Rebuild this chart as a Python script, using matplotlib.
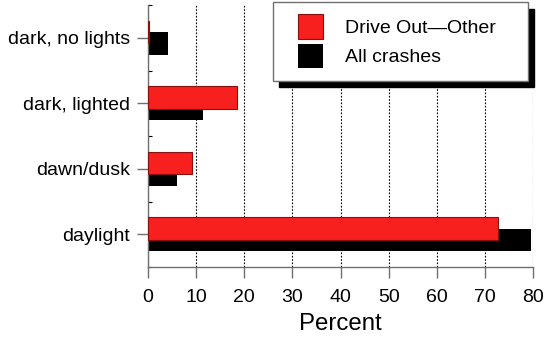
import matplotlib
matplotlib.use("Agg")
import matplotlib.pyplot as plt
from matplotlib.legend_handler import HandlerPatch
from matplotlib.container import BarContainer
import numpy as np

categories = ["daylight", "dawn/dusk", "dark, lighted", "dark, no lights"]
drive_out_other = [72.8, 9.2, 18.4, 0.3]
all_crashes = [79.5, 6.0, 11.4, 4.1]
xticks = [0, 10, 20, 30, 40, 50, 60, 70, 80]

plt.rcParams['font.family'] = ['Liberation Sans', 'DejaVu Sans']

fig = plt.figure(figsize=(5.46, 3.41), dpi=100)
ax = fig.add_axes([148/546, 1 - 267/341, 385/546, 262/341])

y = np.arange(len(categories))
h = 0.345
off = 0.085
red = '#f81f1f'
ax.barh(y - off, all_crashes, height=h, color='black', zorder=2, label='All crashes')
ax.barh(y + off, drive_out_other, height=h, color=red, edgecolor='#8a1010',
        linewidth=0.8, zorder=3, label='Drive Out\u2014Other')

ax.set_xlim(0, 80)
ax.set_ylim(-0.5, 3.5)
ax.set_xticks(xticks)
ax.set_yticks(y)
ax.set_yticklabels(categories)
ax.set_yticks(np.arange(-0.5, 3.6, 1.0), minor=True)
ax.tick_params(axis='y', which='minor', direction='in', length=3, color='black', width=0.8)
ax.tick_params(axis='both', which='major', labelsize=14, color='#707070', width=1,
               length=8)
ax.tick_params(axis='x', which='major', pad=8)
ax.tick_params(axis='y', which='major', pad=5)

for s in ['top', 'right']:
    ax.spines[s].set_visible(False)
for s in ['left', 'bottom']:
    ax.spines[s].set_color('#707070')
    ax.spines[s].set_linewidth(1)

ax.xaxis.grid(True, color='black', linestyle=(0, (1.5, 1.5)), linewidth=0.8, zorder=0)
ax.set_axisbelow(True)
ax.set_xlabel('Percent', fontsize=17.3, labelpad=5)

def first_child(legend_handle, orig_handle):
    legend_handle.update_from(orig_handle[0])

handles, labels = ax.get_legend_handles_labels()
hm = {BarContainer: HandlerPatch(xpad=0.62, update_func=first_child)}
leg = fig.legend(handles[::-1], labels[::-1], loc='upper left',
                 bbox_to_anchor=(273/546, 1 - 5/341, 255/546, 0.01),
                 bbox_transform=fig.transFigure, mode='expand',
                 fontsize=14, fancybox=False, borderaxespad=0,
                 handlelength=1.9, handleheight=1.53, handletextpad=1.13,
                 labelspacing=0.26, borderpad=0.66, handler_map=hm,
                 shadow={'ox': 4, 'oy': -5, 'facecolor': 'black', 'edgecolor': 'black', 'alpha': 1})
leg.get_frame().set_edgecolor('#707070')
leg.get_frame().set_linewidth(1)

fig.savefig('out.png', dpi=100)
